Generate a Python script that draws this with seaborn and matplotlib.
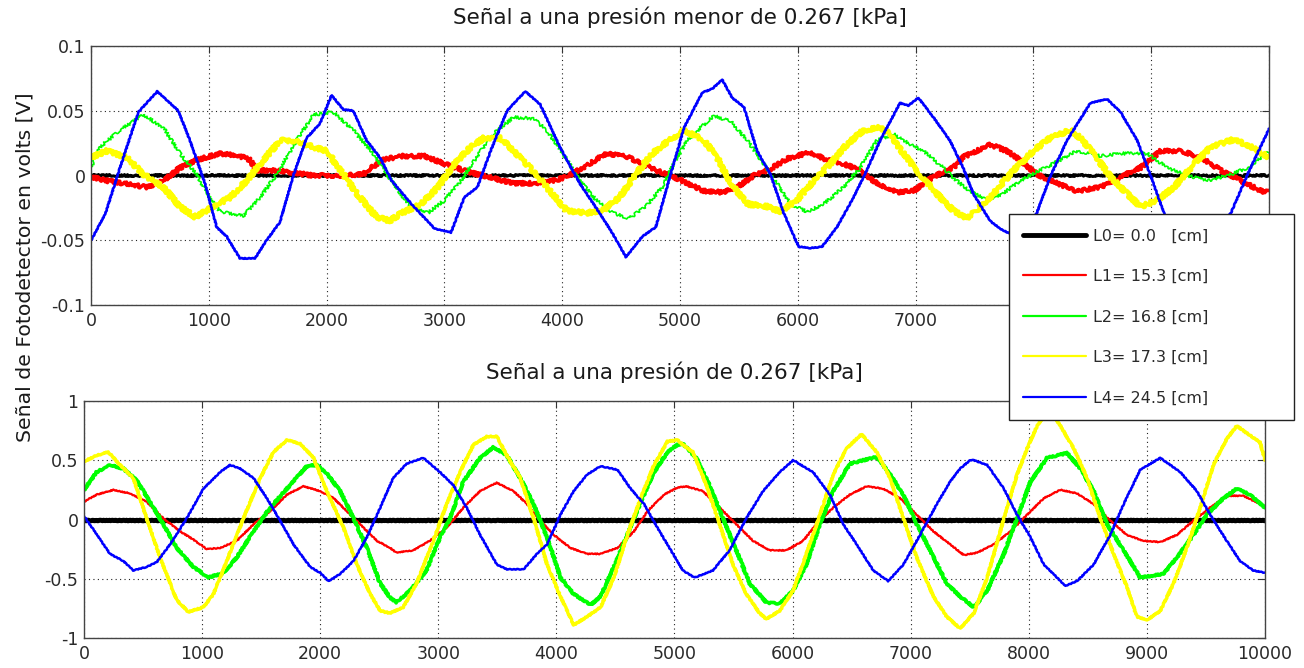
import matplotlib
matplotlib.use("Agg")
import matplotlib.pyplot as plt
from matplotlib.lines import Line2D
import seaborn as sns
import pandas as pd

# ---------------- data: upper panel (presión menor de 0.267 kPa) ----------------
top_L0_x = [0, 2000, 4000, 6000, 8000, 10000]
top_L0_y = [0.0005, 0.0005, 0.0005, 0.0005, 0.0005, 0.0005]

top_L1_x = [0, 133, 274, 472, 614, 755, 897, 1095, 1264, 1349, 1406, 1519, 1660, 1887, 2113, 2311,
            2468, 2636, 2832, 3000, 3196, 3364, 3588, 3756, 3924, 4036, 4176, 4373, 4541, 4681, 4793,
            4921, 5062, 5203, 5372, 5485, 5626, 5767, 5908, 6106, 6247, 6388, 6529, 6670, 6839, 6980,
            7150, 7319, 7400, 7517, 7631, 7773, 7886, 8028, 8199, 8369, 8568, 8739, 8909, 9080, 9250,
            9420, 9591, 9761, 9932, 10000]
top_L1_y = [-0.001, -0.004, -0.006, -0.009, -0.004, 0.006, 0.012, 0.017, 0.015, 0.012, 0.004, 0.004,
            0.003, 0.000, 0.000, 0.001, 0.012, 0.015, 0.015, 0.009, 0.003, -0.001, -0.006, -0.006,
            -0.004, -0.001, 0.006, 0.017, 0.015, 0.009, 0.004, 0.000, -0.006, -0.012, -0.013, -0.009,
            0.000, 0.005, 0.013, 0.018, 0.012, 0.009, 0.004, -0.006, -0.013, -0.012, -0.001, 0.006,
            0.014, 0.019, 0.024, 0.019, 0.012, 0.001, -0.006, -0.012, -0.009, -0.001, 0.006, 0.019,
            0.019, 0.014, 0.004, -0.004, -0.012, -0.013]

top_L2_x = [0, 76, 246, 444, 614, 755, 897, 981, 1095, 1293, 1434, 1576, 1745, 1887, 2057, 2226, 2396,
            2509, 2552, 2692, 2860, 3000, 3140, 3308, 3448, 3588, 3756, 3868, 4008, 4148, 4289, 4429,
            4569, 4709, 4849, 4950, 5062, 5175, 5288, 5429, 5570, 5711, 5824, 5937, 6078, 6219, 6388,
            6529, 6670, 6811, 6896, 7065, 7234, 7347, 7460, 7602, 7744, 7886, 8057, 8227, 8369, 8568,
            8739, 8966, 9136, 9307, 9477, 9648, 9818, 10000]
top_L2_y = [0.006, 0.022, 0.035, 0.047, 0.037, 0.017, 0.001, -0.014, -0.028, -0.031, -0.017, 0.001,
            0.027, 0.047, 0.049, 0.035, 0.017, 0.001, -0.004, -0.022, -0.029, -0.019, -0.004, 0.019,
            0.035, 0.045, 0.044, 0.035, 0.017, -0.004, -0.019, -0.029, -0.033, -0.024, -0.009, 0.010,
            0.027, 0.037, 0.046, 0.042, 0.027, 0.009, -0.006, -0.022, -0.028, -0.022, -0.009, 0.006,
            0.027, 0.032, 0.027, 0.019, 0.006, -0.004, -0.012, -0.019, -0.014, -0.004, 0.004, 0.012,
            0.019, 0.015, 0.017, 0.017, 0.006, 0.000, -0.004, 0.000, 0.006, 0.019]

top_L3_x = [0, 133, 303, 444, 614, 755, 883, 1038, 1180, 1321, 1463, 1604, 1745, 1887, 2000, 2141,
            2283, 2424, 2537, 2636, 2804, 2944, 3084, 3224, 3336, 3476, 3588, 3728, 3868, 4036, 4204,
            4345, 4485, 4625, 4765, 4905, 5034, 5203, 5316, 5429, 5570, 5739, 5852, 5993, 6134, 6275,
            6416, 6557, 6698, 6783, 6896, 7037, 7178, 7319, 7430, 7517, 7659, 7830, 8000, 8142, 8312,
            8398, 8511, 8653, 8795, 8909, 9051, 9193, 9364, 9506, 9705, 9847, 10000]
top_L3_y = [0.014, 0.019, 0.014, 0.001, -0.009, -0.024, -0.032, -0.024, -0.017, -0.004, 0.012, 0.027,
            0.027, 0.022, 0.019, 0.001, -0.017, -0.032, -0.035, -0.029, -0.022, -0.009, 0.009, 0.022,
            0.029, 0.029, 0.019, 0.006, -0.009, -0.027, -0.029, -0.027, -0.017, 0.001, 0.017, 0.027,
            0.035, 0.027, 0.014, -0.006, -0.022, -0.024, -0.028, -0.019, -0.004, 0.009, 0.024, 0.035,
            0.037, 0.032, 0.017, 0.001, -0.014, -0.027, -0.033, -0.027, -0.014, 0.004, 0.019, 0.029,
            0.035, 0.029, 0.017, -0.001, -0.014, -0.024, -0.019, -0.009, 0.009, 0.022, 0.028, 0.022,
            0.014]

top_L4_x = [0, 120, 246, 402, 563, 741, 840, 967, 1067, 1151, 1264, 1392, 1491, 1604, 1717, 1830,
            1943, 2042, 2141, 2226, 2340, 2452, 2552, 2720, 2916, 3056, 3168, 3280, 3392, 3532, 3686,
            3812, 3980, 4148, 4317, 4429, 4541, 4681, 4793, 4905, 5034, 5189, 5274, 5358, 5443, 5542,
            5654, 5767, 5880, 6007, 6106, 6205, 6331, 6472, 6585, 6698, 6867, 6938, 7023, 7150, 7291,
            7403, 7489, 7631, 7716, 7801, 7900, 8028, 8142, 8284, 8483, 8625, 8739, 8881, 8994, 9108,
            9300, 9500, 9676, 9818, 10000]
top_L4_y = [-0.050, -0.030, 0.006, 0.049, 0.065, 0.050, 0.027, -0.006, -0.040, -0.047, -0.064,
            -0.064, -0.050, -0.036, 0.000, 0.029, 0.040, 0.062, 0.051, 0.050, 0.027, 0.014, -0.004,
            -0.022, -0.041, -0.044, -0.017, -0.009, 0.019, 0.050, 0.065, 0.055, 0.022, -0.006, -0.029,
            -0.045, -0.063, -0.047, -0.040, -0.004, 0.037, 0.064, 0.067, 0.074, 0.060, 0.053, 0.019,
            0.001, -0.029, -0.055, -0.056, -0.055, -0.040, -0.017, 0.004, 0.027, 0.056, 0.054, 0.060,
            0.045, 0.027, 0.006, -0.014, -0.035, -0.041, -0.045, -0.050, -0.029, -0.001, 0.027, 0.056,
            0.059, 0.049, 0.027, 0.000, -0.029, -0.055, -0.045, -0.029, 0.001, 0.036]

# ---------------- data: lower panel (presión de 0.267 kPa) ----------------
bot_L0_x = [0, 2000, 4000, 6000, 8000, 10000]
bot_L0_y = [0.0, 0.0, 0.0, 0.0, 0.0, 0.0]

bot_L1_x = [0, 107, 249, 390, 531, 672, 814, 927, 1040, 1153, 1294, 1435, 1576, 1718, 1859, 2000,
            2113, 2226, 2367, 2480, 2593, 2646, 2788, 2929, 3071, 3212, 3354, 3496, 3637, 3751, 3864,
            3977, 4119, 4261, 4374, 4516, 4657, 4771, 4912, 5025, 5099, 5240, 5382, 5523, 5665, 5806,
            5948, 6089, 6202, 6344, 6485, 6627, 6768, 6909, 7051, 7192, 7334, 7450, 7563, 7704, 7845,
            7986, 8127, 8268, 8408, 8549, 8690, 8831, 8972, 9113, 9254, 9394, 9535, 9676, 9817, 10000]
bot_L1_y = [0.15, 0.21, 0.25, 0.22, 0.15, 0.01, -0.10, -0.17, -0.25, -0.24, -0.18, -0.04, 0.07, 0.21,
            0.28, 0.24, 0.18, 0.07, -0.07, -0.18, -0.24, -0.28, -0.26, -0.18, -0.07, 0.10, 0.24, 0.31,
            0.24, 0.13, -0.01, -0.13, -0.24, -0.29, -0.29, -0.24, -0.10, 0.07, 0.21, 0.27, 0.28, 0.24,
            0.10, -0.04, -0.18, -0.26, -0.26, -0.18, -0.04, 0.10, 0.21, 0.28, 0.26, 0.18, 0.04, -0.10,
            -0.21, -0.30, -0.28, -0.21, -0.10, 0.04, 0.18, 0.25, 0.22, 0.13, -0.01, -0.13, -0.18, -0.19,
            -0.13, -0.01, 0.10, 0.20, 0.20, 0.11]

bot_L2_x = [0, 107, 220, 333, 446, 559, 672, 785, 927, 1054, 1181, 1294, 1435, 1576, 1718, 1887, 1972,
            2056, 2169, 2282, 2395, 2508, 2593, 2646, 2759, 2901, 3014, 3099, 3212, 3354, 3467, 3581,
            3694, 3807, 3921, 4034, 4147, 4289, 4374, 4487, 4601, 4714, 4827, 4941, 5025, 5071, 5184,
            5297, 5410, 5523, 5637, 5778, 5891, 6004, 6117, 6231, 6344, 6485, 6598, 6711, 6825, 6938,
            7051, 7164, 7305, 7419, 7535, 7648, 7789, 7901, 8014, 8155, 8324, 8437, 8549, 8662, 8803,
            8944, 9141, 9254, 9394, 9507, 9648, 9761, 9873, 10000]
bot_L2_y = [0.25, 0.40, 0.46, 0.43, 0.33, 0.15, -0.04, -0.24, -0.40, -0.49, -0.45, -0.32, -0.10, 0.10,
            0.26, 0.45, 0.46, 0.39, 0.24, 0.01, -0.24, -0.54, -0.66, -0.70, -0.60, -0.43, -0.15, 0.01,
            0.32, 0.52, 0.61, 0.54, 0.35, 0.13, -0.15, -0.49, -0.63, -0.72, -0.65, -0.40, -0.13, 0.15,
            0.40, 0.57, 0.63, 0.64, 0.52, 0.29, 0.01, -0.26, -0.54, -0.70, -0.71, -0.60, -0.38, -0.04,
            0.24, 0.47, 0.50, 0.53, 0.38, 0.21, -0.04, -0.26, -0.54, -0.65, -0.74, -0.60, -0.29, 0.01,
            0.32, 0.52, 0.56, 0.43, 0.24, -0.04, -0.26, -0.49, -0.46, -0.32, -0.13, 0.04, 0.18, 0.26,
            0.21, 0.10]

bot_L3_x = [0, 107, 206, 305, 418, 531, 644, 785, 884, 1011, 1096, 1209, 1350, 1492, 1605, 1718, 1831,
            1944, 2056, 2198, 2311, 2424, 2508, 2589, 2703, 2816, 2958, 3071, 3184, 3297, 3411, 3496,
            3581, 3694, 3807, 3921, 4034, 4147, 4261, 4374, 4487, 4601, 4714, 4827, 4941, 5025, 5071,
            5156, 5269, 5382, 5495, 5608, 5721, 5778, 5891, 6004, 6117, 6231, 6344, 6457, 6584, 6711,
            6825, 6938, 7051, 7192, 7305, 7419, 7535, 7648, 7789, 7901, 7986, 8070, 8170, 8268, 8380,
            8493, 8606, 8718, 8831, 8915, 9000, 9113, 9225, 9338, 9451, 9563, 9676, 9761, 9873, 9958,
            10000]
bot_L3_y = [0.49, 0.54, 0.57, 0.46, 0.35, 0.01, -0.32, -0.68, -0.78, -0.74, -0.63, -0.35, 0.01, 0.35,
            0.57, 0.67, 0.64, 0.52, 0.24, -0.07, -0.38, -0.63, -0.77, -0.79, -0.74, -0.54, -0.18, 0.13,
            0.40, 0.63, 0.70, 0.70, 0.54, 0.35, 0.01, -0.38, -0.65, -0.89, -0.82, -0.74, -0.49, -0.13,
            0.18, 0.46, 0.66, 0.67, 0.63, 0.57, 0.29, -0.04, -0.38, -0.63, -0.79, -0.84, -0.77, -0.60,
            -0.29, 0.04, 0.38, 0.60, 0.72, 0.57, 0.35, 0.01, -0.32, -0.65, -0.82, -0.92, -0.79, -0.49,
            0.01, 0.38, 0.60, 0.79, 0.93, 0.79, 0.60, 0.35, 0.01, -0.29, -0.57, -0.82, -0.85, -0.77,
            -0.54, -0.24, 0.10, 0.46, 0.68, 0.79, 0.71, 0.65, 0.50]

bot_L4_x = [0, 107, 220, 333, 418, 531, 616, 729, 870, 1011, 1153, 1237, 1322, 1435, 1548, 1661, 1774,
            1915, 2000, 2071, 2169, 2282, 2395, 2508, 2618, 2731, 2873, 3014, 3127, 3241, 3354, 3496,
            3581, 3722, 3836, 3921, 4034, 4147, 4261, 4374, 4516, 4629, 4742, 4856, 4969, 5071, 5170,
            5325, 5467, 5608, 5750, 5891, 6004, 6174, 6315, 6429, 6542, 6683, 6810, 6938, 7079, 7221,
            7334, 7419, 7504, 7535, 7648, 7789, 7901, 8014, 8127, 8239, 8310, 8408, 8549, 8690, 8803,
            8944, 9113, 9282, 9423, 9535, 9676, 9789, 9901, 10000]
bot_L4_y = [0.03, -0.125, -0.29, -0.35, -0.43, -0.40, -0.36, -0.21, 0.01, 0.26, 0.40, 0.46, 0.43, 0.35,
            0.18, -0.01, -0.21, -0.40, -0.45, -0.52, -0.46, -0.35, -0.15, 0.10, 0.35, 0.47, 0.52, 0.40,
            0.29, 0.10, -0.13, -0.38, -0.42, -0.42, -0.29, -0.21, 0.04, 0.24, 0.38, 0.45, 0.42, 0.26,
            0.13, -0.07, -0.26, -0.43, -0.49, -0.43, -0.26, 0.01, 0.24, 0.40, 0.50, 0.40, 0.21, -0.04,
            -0.21, -0.43, -0.52, -0.38, -0.13, 0.13, 0.32, 0.43, 0.50, 0.50, 0.46, 0.26, 0.04, -0.15,
            -0.38, -0.49, -0.56, -0.52, -0.38, -0.13, 0.13, 0.42, 0.52, 0.40, 0.24, 0.04, -0.18, -0.35,
            -0.43, -0.45]

labels = ["L0= 0.0   [cm]", "L1= 15.3 [cm]", "L2= 16.8 [cm]", "L3= 17.3 [cm]", "L4= 24.5 [cm]"]
colors = ["#000000", "#ff0000", "#00ff00", "#ffff00", "#0000ff"]

top_series = [(top_L0_x, top_L0_y), (top_L1_x, top_L1_y), (top_L2_x, top_L2_y),
              (top_L3_x, top_L3_y), (top_L4_x, top_L4_y)]
bot_series = [(bot_L0_x, bot_L0_y), (bot_L1_x, bot_L1_y), (bot_L2_x, bot_L2_y),
              (bot_L3_x, bot_L3_y), (bot_L4_x, bot_L4_y)]

# ---------------- style ----------------
sns.set_theme(style="white")
plt.rcParams["font.family"] = ["DejaVu Sans"]
text_color = "#2a2a2a"

fig = plt.figure(figsize=(13.04, 6.68), dpi=100)
ax_top = fig.add_axes([0.0698, 0.5434, 0.9034, 0.3877])
ax_bot = fig.add_axes([0.0644, 0.0449, 0.9057, 0.3548])

# line widths and jitter (noisy photodetector trace) per series
top_lw = [2.2, 2.6, 1.2, 3.0, 1.9]
top_jitter = [(1.0, 1.5, 2), (1.8, 1.2, 2), (1.5, 1.0, 2), (2.0, 1.2, 2), (0.4, 4.0, 2)]
bot_lw = [3.6, 1.6, 2.6, 2.4, 1.8]
bot_jitter = [(0.3, 4, 2), (0.5, 3, 2), (0.8, 2, 2), (0.6, 2.5, 2), (0.4, 4, 2)]


def draw_panel(ax, series, lws, jitters):
    for i, (xs, ys) in enumerate(series):
        df = pd.DataFrame({"muestra": xs, "voltaje": ys})
        sns.lineplot(data=df, x="muestra", y="voltaje", ax=ax, color=colors[i],
                     linewidth=lws[i], estimator=None, sort=False, legend=False)
        ax.lines[-1].set_sketch_params(*jitters[i])


draw_panel(ax_top, top_series, top_lw, top_jitter)
draw_panel(ax_bot, bot_series, bot_lw, bot_jitter)


def style_axes(ax, ylim, yticks, yticklabels, title):
    ax.set_xlim(0, 10000)
    ax.set_ylim(*ylim)
    ax.set_xticks(range(0, 10001, 1000))
    ax.set_xticklabels([str(v) for v in range(0, 10001, 1000)])
    ax.set_yticks(yticks)
    ax.set_yticklabels(yticklabels)
    ax.set_xlabel("")
    ax.set_ylabel("")
    ax.grid(True, color="#222222", linestyle=(0, (1, 3)), linewidth=0.8)
    ax.tick_params(direction="in", top=True, right=True, length=5, width=0.8,
                   color="#333333", labelsize=12.5, labelcolor=text_color)
    ax.tick_params(axis="x", pad=5)
    ax.tick_params(axis="y", pad=4)
    for sp in ax.spines.values():
        sp.set_color("#444444")
        sp.set_linewidth(1.0)
    ax.set_title(title, fontsize=15.5, color="#1a1a1a", pad=15.5)


style_axes(ax_top, (-0.1, 0.1), [-0.1, -0.05, 0, 0.05, 0.1],
           ["-0.1", "-0.05", "0", "0.05", "0.1"],
           "Señal a una presión menor de 0.267 [kPa]")
style_axes(ax_bot, (-1, 1), [-1, -0.5, 0, 0.5, 1],
           ["-1", "-0.5", "0", "0.5", "1"],
           "Señal a una presión de 0.267 [kPa]")

fig.text(0.019, 0.60, "Señal de Fotodetector en volts [V]", rotation=90,
         va="center", ha="center", fontsize=14.7, color="#1a1a1a")

handles = [Line2D([], [], color=c, lw=(3.5 if i == 0 else 1.6)) for i, c in enumerate(colors)]
leg = fig.legend(handles, labels, loc="upper left",
                 bbox_to_anchor=(0.7738, 0.3683, 0.2185, 0.3113), mode="expand",
                 fontsize=11.5, handlelength=3.9, handletextpad=0.45, labelspacing=1.6,
                 borderpad=0.9, borderaxespad=0, fancybox=False, framealpha=1,
                 edgecolor="#222222")
leg.get_frame().set_linewidth(1.0)
for t in leg.get_texts():
    t.set_color(text_color)

fig.savefig("out.png", dpi=100)
